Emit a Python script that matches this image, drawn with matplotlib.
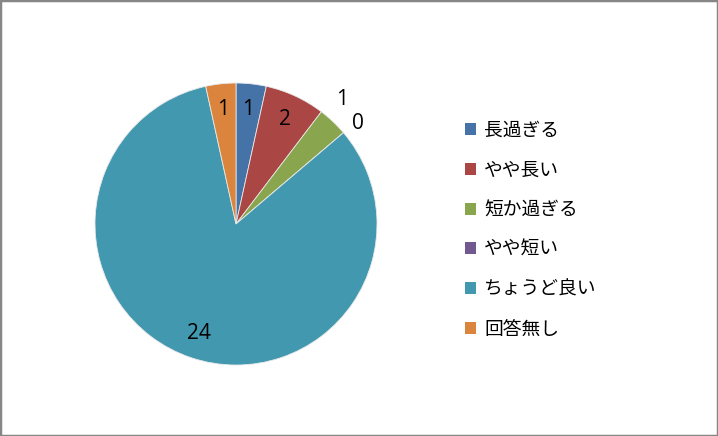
import matplotlib.pyplot as plt
import matplotlib.patches as patches
import numpy as np

labels = ["長過ぎる", "やや長い", "短か過ぎる", "やや短い", "ちょうど良い", "回答無し"]
counts = [1, 2, 1, 0, 24, 1]
colors = ["#4572A7", "#AA4643", "#89A54E", "#71588F", "#4198AF", "#DB843D"]

plt.rcParams["font.family"] = ["Noto Sans CJK JP", "DejaVu Sans"]

fig = plt.figure(figsize=(7.18, 4.36), dpi=100)
fig.patches.append(patches.Rectangle(
    (0, 0), 1, 1, transform=fig.transFigure, fill=False,
    edgecolor="#868686", linewidth=2.5, zorder=10,
))

ax = fig.add_axes([0.1323, 0.1628, 0.3928, 0.6468])
total = sum(counts)
wedges, texts, autotexts = ax.pie(
    counts,
    colors=colors,
    startangle=90,
    counterclock=False,
    autopct=lambda p: "%d" % round(p * total / 100),
    pctdistance=0.82,
    wedgeprops=dict(edgecolor="#e8e8e8", linewidth=0.6),
    textprops=dict(fontsize=15, family=["Open Sans", "DejaVu Sans"], color="black"),
)
# small slices get their labels just outside the pie (dist, angle nudge)
for i, dist, nudge in ((2, 1.16, 3.0), (3, 1.12, -1.0)):
    w = wedges[i]
    mid = np.deg2rad((w.theta1 + w.theta2) / 2 + nudge)
    autotexts[i].set_position((dist * np.cos(mid), dist * np.sin(mid)))
ax.set_xlim(-1, 1)
ax.set_ylim(-1, 1)
ax.set_aspect("equal")

leg = fig.legend(
    wedges, labels,
    loc="upper left",
    bbox_to_anchor=(0.624, 0.764),
    frameon=False,
    fontsize=13.5,
    handlelength=0.6,
    handleheight=0.6,
    handletextpad=0.43,
    labelspacing=1.0,
)
for h in leg.legend_handles:
    h.set_edgecolor("none")

fig.savefig("out.png", dpi=100)
